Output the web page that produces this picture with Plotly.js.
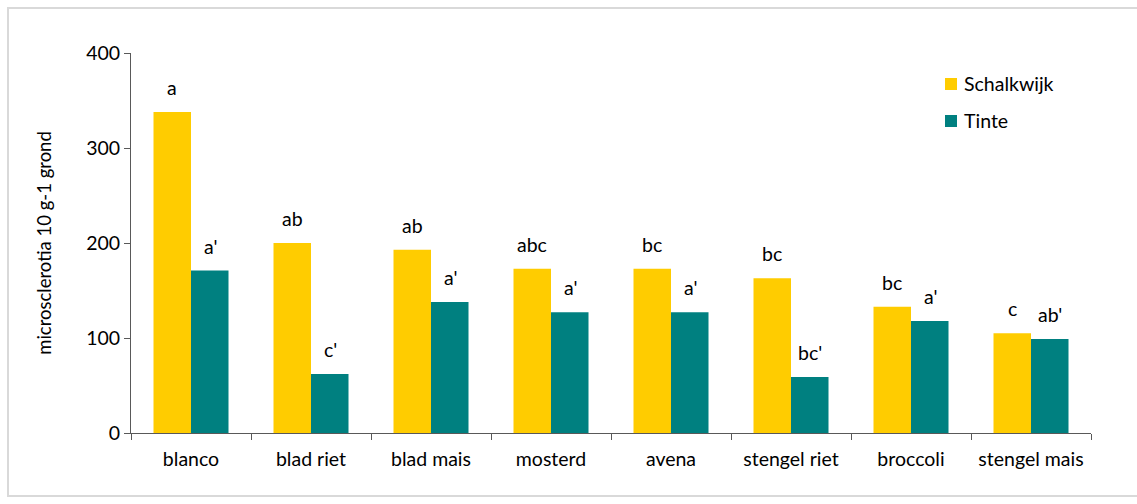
<!DOCTYPE html>
<html><head><meta charset="utf-8">
<script src="https://cdn.plot.ly/plotly-3.0.1.min.js"></script>
<style>
html,body{margin:0;padding:0;background:#fff;}
#frame{position:absolute;left:7px;top:7px;width:1140px;height:490px;border:2px solid #d9d9d9;box-sizing:border-box;}
#chart{position:absolute;left:0;top:0;width:1137px;height:504px;}
</style></head>
<body>
<div id="frame"></div>
<div id="chart"></div>
<script>
const categories = ["blanco","blad riet","blad mais","mosterd","avena","stengel riet","broccoli","stengel mais"];
const seriesNames = ["Schalkwijk","Tinte"];
const schalkwijk = [338, 200, 193, 173, 173, 163, 133, 105];
const tinte = [171, 62, 138, 127, 127, 59, 118, 99];
const schalkwijkLetters = ["a","ab","ab","abc","bc","bc","bc","c"];
const tinteLetters = ["a'","c'","a'","a'","a'","bc'","a'","ab'"];
const yTicks = [0,100,200,300,400];
const colors = ["#FFCC00","#008080"];

const font = {family: "Lato, 'Open Sans', sans-serif", size: 19.5, color: "#000"};

const traces = [
  {type:"bar", name:seriesNames[0], x:categories, y:schalkwijk, marker:{color:colors[0]}, showlegend:false},
  {type:"bar", name:seriesNames[1], x:categories, y:tinte, marker:{color:colors[1]}, showlegend:false}
];

const annotations = [];
categories.forEach((c,i)=>{
  annotations.push({x:c, y:schalkwijk[i], text:schalkwijkLetters[i], showarrow:false, xshift:-19, yshift:11, yanchor:"bottom", font:font});
  annotations.push({x:c, y:tinte[i], text:tinteLetters[i], showarrow:false, xshift:19, yshift:11, yanchor:"bottom", font:font});
});

// manual legend (plot area: x 131..1091 px, y 53..433 px)
const px = v => (v-131)/960, py = v => (433-v)/380;
const shapes = [];
const legendY = [84, 121];
seriesNames.forEach((n,k)=>{
  shapes.push({type:"rect", xref:"paper", yref:"paper", x0:px(945), x1:px(957), y0:py(legendY[k]-6), y1:py(legendY[k]+6), fillcolor:colors[k], line:{width:0}});
  annotations.push({xref:"paper", yref:"paper", x:px(962), y:py(legendY[k]-1), xanchor:"left", yanchor:"middle", text:n, showarrow:false, font:font});
});

const layout = {
  width:1137, height:504,
  margin:{l:131, r:46, t:53, b:71},
  paper_bgcolor:"rgba(0,0,0,0)", plot_bgcolor:"rgba(0,0,0,0)",
  font:font,
  barmode:"group", bargap:0.375, bargroupgap:0,
  showlegend:false,
  xaxis:{type:"category", showline:true, linecolor:"#595959", linewidth:1, ticks:"outside", tickson:"boundaries", ticklen:6, tickcolor:"#595959", showgrid:false, zeroline:false, tickfont:font, ticklabelstandoff:9},
  yaxis:{range:[0,400], tickvals:yTicks, showline:true, linecolor:"#595959", linewidth:1, ticks:"outside", ticklen:6, tickcolor:"#595959", showgrid:false, zeroline:false, tickfont:font,
    title:{text:"microsclerotia 10 g-1 grond", font:{family:font.family, size:18.5, color:"#000"}, standoff:29}},
  shapes:shapes,
  annotations:annotations
};
Plotly.newPlot("chart", traces, layout, {displayModeBar:false, staticPlot:true});
</script>
</body></html>
